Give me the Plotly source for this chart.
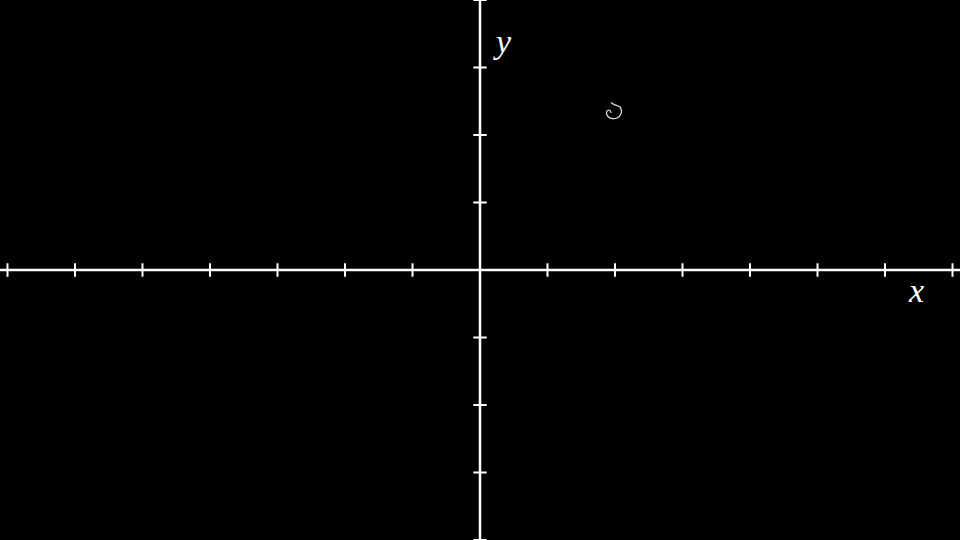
import plotly.graph_objects as go

# Axis extents (data units)
x_ticks = [-7, -6, -5, -4, -3, -2, -1, 0, 1, 2, 3, 4, 5, 6, 7]
y_ticks = [-4, -3, -2, -1, 0, 1, 2, 3, 4]
x_range = [-7.111, 7.111]
y_range = [-4.0, 4.0]
tick_half = 0.1

# Small spiral curve near (2, 2.35)
spiral_x = [1.941, 1.985, 2.074, 2.096, 2.081, 2.030, 1.956, 1.896, 1.874, 1.889, 1.926, 1.941]
spiral_y = [2.481, 2.452, 2.415, 2.356, 2.296, 2.252, 2.244, 2.274, 2.326, 2.363, 2.363, 2.326]

fig = go.Figure()

fig.add_trace(go.Scatter(x=[x_range[0], x_range[1]], y=[0, 0], mode="lines",
                         line=dict(color="white", width=2.5), hoverinfo="skip"))
fig.add_trace(go.Scatter(x=[0, 0], y=[y_range[0], y_range[1]], mode="lines",
                         line=dict(color="white", width=2.5), hoverinfo="skip"))

tx, ty = [], []
for t in x_ticks:
    if t == 0:
        continue
    tx += [t, t, None]
    ty += [-tick_half, tick_half, None]
for t in y_ticks:
    if t == 0:
        continue
    tx += [-tick_half, tick_half, None]
    ty += [t, t, None]
fig.add_trace(go.Scatter(x=tx, y=ty, mode="lines",
                         line=dict(color="white", width=2), hoverinfo="skip"))

fig.add_trace(go.Scatter(x=spiral_x, y=spiral_y, mode="lines",
                         line=dict(color="#dddddd", width=1.3, shape="spline"),
                         hoverinfo="skip"))

fig.add_annotation(x=6.46, y=-0.31, text="<i>x</i>", showarrow=False,
                   font=dict(family="Liberation Serif", size=34, color="white"))
fig.add_annotation(x=0.326, y=3.38, text="<i>y</i>", showarrow=False,
                   font=dict(family="Liberation Serif", size=34, color="white"))

fig.update_layout(
    width=960, height=540,
    margin=dict(l=0, r=0, t=0, b=0),
    paper_bgcolor="black", plot_bgcolor="black",
    showlegend=False,
    xaxis=dict(range=x_range, visible=False, fixedrange=True),
    yaxis=dict(range=y_range, visible=False, fixedrange=True),
)

fig.write_html(
    "out.html",
    config={"displayModeBar": False},
    post_script="document.body.style.margin='0';document.body.style.background='black';document.body.style.overflow='hidden';",
)
